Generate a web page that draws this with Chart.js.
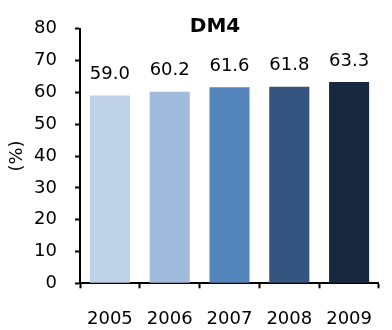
<!DOCTYPE html>
<html>
<head>
<meta charset="utf-8">
<style>
  html, body { margin: 0; padding: 0; background: #fff; }
  #wrap { width: 392px; height: 330px; }
</style>
<script src="https://cdn.jsdelivr.net/npm/chart.js@4/dist/chart.umd.min.js"></script>
</head>
<body>
<div id="wrap"><canvas id="c" width="392" height="330"></canvas></div>
<script>
// Share of population (%) by year
const chartTitle = 'DM4';
const years = ['2005', '2006', '2007', '2008', '2009'];
const values = [59.0, 60.2, 61.6, 61.8, 63.3];
const barColors = ['#BFD1E7', '#A1BBDC', '#5485BD', '#33557F', '#18283F'];
const yAxisTitle = '(%)';
const yMin = 0, yMax = 80, yStep = 10;

const FONT = "'DejaVu Sans', Verdana, sans-serif";
Chart.defaults.font.family = FONT;
Chart.defaults.color = '#000';

// Title drawn inside the plot area, above the bars
const titlePlugin = {
  id: 'innerTitle',
  afterDraw(chart) {
    const ctx = chart.ctx;
    ctx.save();
    ctx.font = 'bold 20px ' + FONT;
    ctx.fillStyle = '#000';
    ctx.textAlign = 'center';
    ctx.textBaseline = 'middle';
    ctx.fillText(chartTitle, 215, 26.5);
    ctx.restore();
  }
};

// Value labels above each bar
const valueLabels = {
  id: 'valueLabels',
  afterDatasetsDraw(chart) {
    const ctx = chart.ctx;
    const meta = chart.getDatasetMeta(0);
    ctx.save();
    ctx.font = '18px ' + FONT;
    ctx.fillStyle = '#000';
    ctx.textAlign = 'center';
    ctx.textBaseline = 'middle';
    meta.data.forEach((bar, i) => {
      ctx.fillText(values[i].toFixed(1), bar.x, bar.y - 21);
    });
    ctx.restore();
  }
};

new Chart(document.getElementById('c'), {
  type: 'bar',
  data: {
    labels: years,
    datasets: [{
      data: values,
      backgroundColor: barColors,
      borderWidth: 0,
      categoryPercentage: 1,
      barPercentage: 0.67
    }]
  },
  options: {
    responsive: false,
    animation: false,
    layout: { padding: { top: 23.5, right: 0, left: 0, bottom: 0 } },
    plugins: {
      legend: { display: false },
      tooltip: { enabled: false },
      title: { display: false }
    },
    scales: {
      x: {
        offset: true,
        grid: {
          offset: true,
          drawOnChartArea: false,
          drawTicks: true,
          tickLength: 5,
          tickWidth: 2,
          tickColor: '#000'
        },
        border: { display: true, color: '#000', width: 2 },
        ticks: { font: { size: 18 }, padding: 20, color: '#000' },
        afterFit(scale) { scale.height = 46.7; }
      },
      y: {
        min: yMin,
        max: yMax,
        grid: {
          drawOnChartArea: false,
          drawTicks: true,
          tickLength: 5,
          tickWidth: 2,
          tickColor: '#000'
        },
        border: { display: true, color: '#000', width: 2 },
        ticks: { stepSize: yStep, font: { size: 18 }, padding: 18, color: '#000' },
        title: {
          display: true,
          text: yAxisTitle,
          font: { size: 18 },
          color: '#000',
          padding: { top: 7, bottom: 0 }
        },
        afterFit(scale) { scale.width = 80; }
      }
    }
  },
  plugins: [titlePlugin, valueLabels]
});
</script>
</body>
</html>
